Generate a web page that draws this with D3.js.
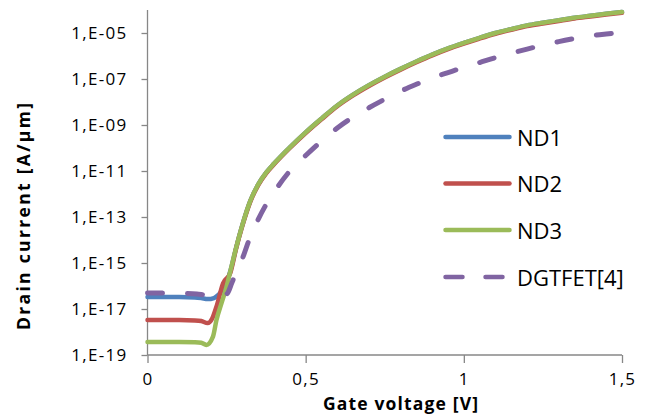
<!DOCTYPE html>
<html>
<head>
<meta charset="utf-8">
<script src="https://cdn.jsdelivr.net/npm/d3@7"></script>
<style>
  html, body { margin: 0; padding: 0; background: #fff; }
  svg { display: block; }
</style>
</head>
<body>
<svg id="chart" width="648" height="417"></svg>
<script>
// ---------- data ----------
const seriesNames = ["ND1", "ND2", "ND3", "DGTFET[4]"];

const nd1V = [0, 0.05, 0.10, 0.15, 0.17, 0.19, 0.21, 0.225, 0.238, 0.25, 0.262, 0.28, 0.30, 0.325, 0.35, 0.375, 0.40, 0.45, 0.50, 0.55, 0.60, 0.65, 0.70, 0.75, 0.80, 0.85, 0.90, 0.95, 1.00, 1.05, 1.10, 1.15, 1.20, 1.25, 1.30, 1.35, 1.40, 1.45, 1.50];
const nd1I = [3.3e-17, 3.3e-17, 3.3e-17, 3.2e-17, 3.0e-17, 2.7e-17, 3.0e-17, 4.2e-17, 7.1e-17, 1.4e-16, 4.5e-16, 4.5e-15, 4.5e-14, 5.0e-13, 2.6e-12, 8.5e-12, 2.1e-11, 1.07e-10, 4.8e-10, 1.9e-9, 7.1e-9, 2.1e-8, 5.4e-8, 1.26e-7, 2.75e-7, 5.75e-7, 1.15e-6, 2.14e-6, 3.7e-6, 6.2e-6, 1.0e-5, 1.48e-5, 2.14e-5, 2.8e-5, 3.6e-5, 4.6e-5, 5.6e-5, 6.8e-5, 8.1e-5];

const nd2V = [0, 0.05, 0.10, 0.15, 0.17, 0.19, 0.205, 0.218, 0.239, 0.262, 0.28, 0.30, 0.325, 0.35, 0.375, 0.40, 0.45, 0.50, 0.55, 0.60, 0.65, 0.70, 0.75, 0.80, 0.85, 0.90, 0.95, 1.00, 1.05, 1.10, 1.15, 1.20, 1.25, 1.30, 1.35, 1.40, 1.45, 1.50];
const nd2I = [3.3e-18, 3.3e-18, 3.3e-18, 3.2e-18, 3.0e-18, 2.45e-18, 4.0e-18, 1.26e-17, 1.3e-16, 3.8e-16, 4.2e-15, 4.2e-14, 4.65e-13, 2.42e-12, 7.9e-12, 1.95e-11, 1.0e-10, 4.46e-10, 1.77e-9, 6.6e-9, 1.95e-8, 5.0e-8, 1.17e-7, 2.56e-7, 5.35e-7, 1.07e-6, 1.99e-6, 3.44e-6, 5.77e-6, 9.3e-6, 1.38e-5, 1.99e-5, 2.6e-5, 3.35e-5, 4.28e-5, 5.2e-5, 6.3e-5, 7.5e-5];

const nd3V = [0, 0.05, 0.10, 0.15, 0.17, 0.186, 0.207, 0.218, 0.234, 0.25, 0.262, 0.28, 0.30, 0.325, 0.35, 0.375, 0.40, 0.45, 0.50, 0.55, 0.60, 0.65, 0.70, 0.75, 0.80, 0.85, 0.90, 0.95, 1.00, 1.05, 1.10, 1.15, 1.20, 1.25, 1.30, 1.35, 1.40, 1.45, 1.50];
const nd3I = [3.7e-19, 3.7e-19, 3.7e-19, 3.6e-19, 3.4e-19, 2.75e-19, 6.3e-19, 3.3e-18, 1.8e-17, 9.3e-17, 4.5e-16, 4.5e-15, 4.5e-14, 5.0e-13, 2.6e-12, 8.5e-12, 2.1e-11, 1.07e-10, 4.8e-10, 1.9e-9, 7.1e-9, 2.1e-8, 5.4e-8, 1.26e-7, 2.75e-7, 5.75e-7, 1.15e-6, 2.14e-6, 3.7e-6, 6.2e-6, 1.0e-5, 1.48e-5, 2.14e-5, 2.8e-5, 3.6e-5, 4.6e-5, 5.6e-5, 6.8e-5, 8.1e-5];

const dgV = [0, 0.05, 0.10, 0.156, 0.188, 0.22, 0.25, 0.267, 0.28, 0.30, 0.325, 0.35, 0.375, 0.40, 0.45, 0.50, 0.55, 0.60, 0.65, 0.70, 0.75, 0.80, 0.85, 0.90, 0.95, 1.00, 1.05, 1.10, 1.15, 1.20, 1.25, 1.30, 1.35, 1.40, 1.45, 1.50];
const dgI = [5.0e-17, 4.9e-17, 4.8e-17, 4.5e-17, 4.0e-17, 4.2e-17, 4.5e-17, 1.4e-16, 4.0e-16, 1.58e-15, 1.41e-14, 7.9e-14, 3.5e-13, 1.2e-12, 1.0e-11, 4.7e-11, 2.0e-10, 7.4e-10, 2.2e-9, 5.6e-9, 1.32e-8, 2.95e-8, 5.9e-8, 1.12e-7, 1.9e-7, 3.2e-7, 5.2e-7, 8.5e-7, 1.32e-6, 2.0e-6, 2.95e-6, 4.2e-6, 5.75e-6, 7.6e-6, 9.1e-6, 1.05e-5];

const yTickValues = [1e-19, 1e-17, 1e-15, 1e-13, 1e-11, 1e-9, 1e-7, 1e-5];
const yTickLabels = ["1,E-19", "1,E-17", "1,E-15", "1,E-13", "1,E-11", "1,E-09", "1,E-07", "1,E-05"];
const xTickValues = [0, 0.5, 1, 1.5];
const xTickLabels = ["0", "0,5", "1", "1,5"];

const xTitle = "Gate voltage [V]";
const yTitle = "Drain current [A/\u00b5m]";

// ---------- styles ----------
const colors = ["#4F81BD", "#C0504D", "#9BBB59", "#8064A2"];
const axisColor = "#878787";
const font = "'Open Sans', 'Liberation Sans', sans-serif";

// ---------- layout ----------
const svg = d3.select("#chart");
const x = d3.scaleLinear().domain([0, 1.5]).range([147.5, 622]);
const y = d3.scaleLog().domain([1e-19, 1e-4]).range([355, 10]);

const series = [
  { name: seriesNames[0], v: nd1V, i: nd1I, color: colors[0], dash: null },
  { name: seriesNames[1], v: nd2V, i: nd2I, color: colors[1], dash: null },
  { name: seriesNames[2], v: nd3V, i: nd3I, color: colors[2], dash: null },
  { name: seriesNames[3], v: dgV, i: dgI, color: colors[3], dash: "15,25" }
];

// ---------- axes ----------
const yAxis = d3.axisLeft(y)
  .tickValues(yTickValues)
  .tickSize(6)
  .tickPadding(14)
  .tickFormat((d, k) => yTickLabels[k]);

const gy = svg.append("g").attr("transform", "translate(147.5,0)").call(yAxis);
gy.select(".domain").remove();
gy.append("line").attr("x1", 0).attr("x2", 0).attr("y1", 10).attr("y2", 355)
  .attr("stroke", axisColor).attr("stroke-width", 1.3);
gy.selectAll(".tick line").attr("stroke", axisColor).attr("stroke-width", 1.3);
gy.selectAll(".tick text")
  .attr("font-family", font).attr("font-size", 17).attr("fill", "#000")
  .attr("letter-spacing", 1.3)
  .attr("dy", "0.34em");

const xAxis = d3.axisBottom(x)
  .tickValues(xTickValues)
  .tickSize(8)
  .tickPadding(12)
  .tickFormat((d, k) => xTickLabels[k]);

const gx = svg.append("g").attr("transform", "translate(0,355)").call(xAxis);
gx.select(".domain").attr("stroke", axisColor).attr("stroke-width", 1.3)
  .attr("d", "M147.5,0H622");
gx.selectAll(".tick line").attr("stroke", axisColor).attr("stroke-width", 1.3);
gx.selectAll(".tick text")
  .attr("font-family", font).attr("font-size", 17).attr("fill", "#000")
  .attr("letter-spacing", 1.3)
  .attr("dy", "0.6em");

// ---------- titles ----------
svg.append("text")
  .attr("x", 400.5).attr("y", 409.5)
  .attr("text-anchor", "middle")
  .attr("font-family", font).attr("font-weight", "bold").attr("font-size", 17.5)
  .attr("textLength", 155).attr("lengthAdjust", "spacing")
  .text(xTitle);

svg.append("text")
  .attr("transform", "translate(29.5,216.5) rotate(-90)")
  .attr("text-anchor", "middle")
  .attr("font-family", font).attr("font-weight", "bold").attr("font-size", 17.5)
  .attr("textLength", 227).attr("lengthAdjust", "spacing")
  .text(yTitle);

// ---------- lines ----------
const line = d3.line()
  .x(d => x(d[0]))
  .y(d => y(d[1]))
  .curve(d3.curveMonotoneX);

series.forEach(s => {
  const pts = s.v.map((v, k) => [v, s.i[k]]);
  svg.append("path")
    .attr("d", line(pts))
    .attr("fill", "none")
    .attr("stroke", s.color)
    .attr("stroke-width", s.dash ? 5 : 4.5)
    .attr("stroke-linecap", "round")
    .attr("stroke-linejoin", "round")
    .attr("stroke-dasharray", s.dash);
});

// ---------- legend ----------
const legend = svg.append("g");
const legendY = [137, 183.5, 230, 277];
series.forEach((s, k) => {
  const g = legend.append("g").attr("transform", `translate(0,${legendY[k]})`);
  g.append("line")
    .attr("x1", 445.5).attr("x2", 509.5).attr("y1", 0).attr("y2", 0)
    .attr("stroke", s.color).attr("stroke-width", 4.5)
    .attr("stroke-linecap", "round")
    .attr("stroke-dasharray", s.dash ? "17,23" : null);
  g.append("text")
    .attr("x", 517).attr("y", 8.5)
    .attr("font-family", font).attr("font-size", 22).attr("fill", "#000")
    .text(s.name);
});
</script>
</body>
</html>
